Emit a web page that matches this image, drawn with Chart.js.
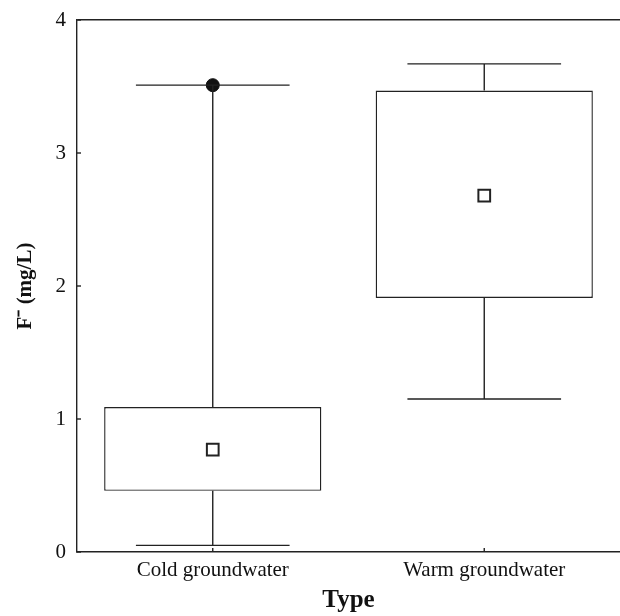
<!DOCTYPE html>
<html>
<head>
<meta charset="utf-8">
<style>
  html, body { margin: 0; padding: 0; background: #fff; }
  #wrap { width: 620px; height: 616px; }
</style>
<script src="https://cdn.jsdelivr.net/npm/chart.js@4/dist/chart.umd.min.js"></script>
</head>
<body>
<div id="wrap"><canvas id="c" width="620" height="616"></canvas></div>
<script>
// Fluoride concentration by groundwater type
const categories = ['Cold groundwater', 'Warm groundwater'];
const whiskerLow  = [0.05, 1.15];
const boxLow      = [0.46, 1.91];
const boxHigh     = [1.09, 3.47];
const whiskerHigh = [3.51, 3.67];
const means       = [0.77, 2.68];
const outliers    = [3.51, null];
const yTicks      = [0, 1, 2, 3, 4];

const INK = '#222';
const FONT = '"Liberation Serif", "Times New Roman", serif';

// whiskers, caps and inward tick marks drawn from the chart's scales
const whiskerPlugin = {
  id: 'whiskers',
  afterDatasetsDraw(chart) {
    const { ctx, scales: { x, y }, chartArea } = chart;
    const catW = (chartArea.right - chartArea.left) / categories.length;
    const capHalf = catW * 0.283;
    ctx.save();
    ctx.strokeStyle = INK;
    ctx.lineWidth = 1.4;
    categories.forEach((c, i) => {
      const cx = x.getPixelForValue(i);
      ctx.beginPath();
      ctx.moveTo(cx, y.getPixelForValue(whiskerLow[i]));
      ctx.lineTo(cx, y.getPixelForValue(boxLow[i]));
      ctx.moveTo(cx, y.getPixelForValue(boxHigh[i]));
      ctx.lineTo(cx, y.getPixelForValue(whiskerHigh[i]));
      const yl = y.getPixelForValue(whiskerLow[i]);
      const yh = y.getPixelForValue(whiskerHigh[i]);
      ctx.moveTo(cx - capHalf, yl); ctx.lineTo(cx + capHalf, yl);
      ctx.moveTo(cx - capHalf, yh); ctx.lineTo(cx + capHalf, yh);
      // inward category tick
      ctx.moveTo(cx, chartArea.bottom); ctx.lineTo(cx, chartArea.bottom - 4);
      ctx.stroke();
    });
    yTicks.forEach(v => {
      const py = y.getPixelForValue(v);
      ctx.beginPath();
      ctx.moveTo(chartArea.left, py);
      ctx.lineTo(chartArea.left + 4, py);
      ctx.stroke();
    });
    ctx.restore();
  }
};

new Chart(document.getElementById('c'), {
  data: {
    labels: categories,
    datasets: [
      {
        type: 'bar',
        data: boxLow.map((lo, i) => [lo, boxHigh[i]]),
        backgroundColor: '#fff',
        borderColor: INK,
        borderWidth: 1.4,
        borderSkipped: false,
        barPercentage: 0.8,
        categoryPercentage: 1.0,
        order: 3
      },
      {
        type: 'line',
        data: means,
        showLine: false,
        pointStyle: 'rect',
        pointRadius: 8.3,
        pointBackgroundColor: '#fff',
        pointBorderColor: INK,
        pointBorderWidth: 2,
        order: 1
      },
      {
        type: 'line',
        data: outliers,
        showLine: false,
        pointStyle: 'circle',
        pointRadius: 6.5,
        pointBackgroundColor: '#111',
        pointBorderColor: '#111',
        pointBorderWidth: 1,
        order: 0
      }
    ]
  },
  plugins: [whiskerPlugin],
  options: {
    responsive: false,
    animation: false,
    devicePixelRatio: 1,
    layout: { autoPadding: false, padding: { top: 20, right: -7, left: 0, bottom: 0 } },
    plugins: { legend: { display: false }, tooltip: { enabled: false } },
    scales: {
      x: {
        type: 'category',
        offset: true,
        grid: { display: false, drawTicks: false },
        border: { display: true, color: INK, width: 1.4 },
        ticks: { color: '#111', font: { family: FONT, size: 21 }, padding: 6 },
        title: {
          display: true, text: 'Type', color: '#111',
          font: { family: FONT, size: 25, weight: 'bold' },
          padding: { top: 0, bottom: 0 }
        },
        afterFit(s) {
          s.height = 64;
          s.paddingLeft = 0; s.paddingRight = 0;
        }
      },
      y: {
        min: 0, max: 4,
        afterBuildTicks(s) { s.ticks = yTicks.map(v => ({ value: v })); },
        grid: {
          drawTicks: false,
          color: ctx => (ctx.tick && ctx.tick.value === 4 ? INK : 'rgba(0,0,0,0)'),
          lineWidth: 1.4
        },
        border: { display: true, color: INK, width: 1.4 },
        ticks: { color: '#111', font: { family: FONT, size: 21 }, padding: 11 },
        title: {
          display: true, text: 'F\u207B (mg/L)', color: '#111',
          font: { family: FONT, size: 21, weight: 'bold' },
          padding: { top: 13, bottom: 0 }
        },
        afterFit(s) {
          s.width = 77;
          s.paddingTop = 0; s.paddingBottom = 0;
        }
      }
    }
  }
});
</script>
</body>
</html>
